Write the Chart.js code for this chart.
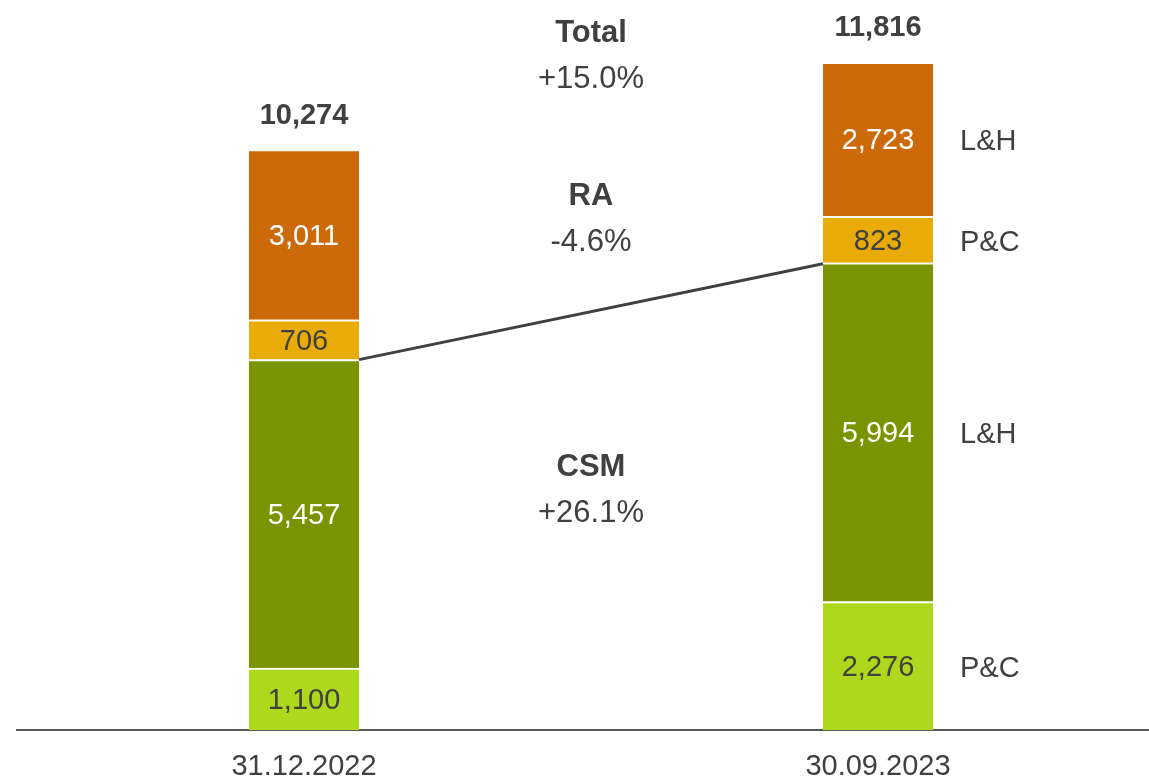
<!DOCTYPE html>
<html>
<head>
<meta charset="utf-8">
<script src="https://cdn.jsdelivr.net/npm/chart.js@4"></script>
<style>
  html, body { margin: 0; padding: 0; background: #fff; overflow: hidden; }
  #wrap { position: relative; width: 1165px; height: 803px; }
</style>
</head>
<body>
<div id="wrap"><canvas id="csmChart"></canvas></div>
<script>
// Dates on the x axis
const periods = ['31.12.2022', '30.09.2023'];

// Stacked segments, bottom to top
const csmPC = [1100, 2276];
const csmLH = [5457, 5994];
const raPC = [706, 823];
const raLH = [3011, 2723];

// Labels printed to the right of the second bar, one per segment
const segmentNames = ['P&C', 'L&H', 'P&C', 'L&H'];

// Change annotations between the bars
const groupTitles = ['Total', 'RA', 'CSM'];
const groupChanges = ['+15.0%', '-4.6%', '+26.1%'];

const textColor = '#404040';
const fontFamily = '"Liberation Sans", Arial, sans-serif';

// Draws value labels, totals, side labels, the CSM connector and the change notes
const annotatePlugin = {
  id: 'annotate',
  afterDatasetsDraw(chart) {
    const ctx = chart.ctx;
    const ds = chart.data.datasets;
    ctx.save();
    ctx.textAlign = 'center';
    ctx.textBaseline = 'middle';

    // value inside each segment
    ds.forEach((d, i) => {
      const meta = chart.getDatasetMeta(i);
      meta.data.forEach((bar, j) => {
        ctx.font = '29px ' + fontFamily;
        ctx.fillStyle = d.labelColor;
        ctx.fillText(d.data[j].toLocaleString('en-US'), bar.x, (bar.y + bar.base) / 2 + 2);
      });
    });

    // totals on top
    const topMeta = chart.getDatasetMeta(ds.length - 1);
    topMeta.data.forEach((bar, j) => {
      const total = ds.reduce((s, d) => s + d.data[j], 0);
      ctx.font = 'bold 29px ' + fontFamily;
      ctx.fillStyle = textColor;
      ctx.fillText(total.toLocaleString('en-US'), bar.x, bar.y - 34);
    });

    // side labels next to the last bar
    ctx.textAlign = 'left';
    ds.forEach((d, i) => {
      const bar = chart.getDatasetMeta(i).data[periods.length - 1];
      ctx.font = '29px ' + fontFamily;
      ctx.fillStyle = textColor;
      ctx.fillText(segmentNames[i], bar.x + bar.width / 2 + 27, (bar.y + bar.base) / 2 + 3);
    });

    // connector between CSM tops
    const csmMeta = chart.getDatasetMeta(1);
    const b0 = csmMeta.data[0], b1 = csmMeta.data[1];
    ctx.beginPath();
    ctx.moveTo(b0.x + b0.width / 2, b0.y);
    ctx.lineTo(b1.x - b1.width / 2, b1.y + 1);
    ctx.lineWidth = 3;
    ctx.strokeStyle = textColor;
    ctx.stroke();

    // change notes centred between the bars
    ctx.textAlign = 'center';
    const midX = (b0.x + b1.x) / 2;
    const noteY = [33, 196, 467];
    groupTitles.forEach((t, k) => {
      ctx.font = 'bold 31px ' + fontFamily;
      ctx.fillText(t, midX, noteY[k]);
      ctx.font = '31px ' + fontFamily;
      ctx.fillText(groupChanges[k], midX, noteY[k] + 46);
    });
    ctx.restore();
  }
};

const seg = (label, data, color, labelColor) => ({
  label: label,
  data: data,
  backgroundColor: color,
  borderColor: '#ffffff',
  borderWidth: { top: 2, bottom: 0, left: 0, right: 0 },
  borderSkipped: false,
  barThickness: 110,
  labelColor: labelColor
});

new Chart(document.getElementById('csmChart'), {
  type: 'bar',
  data: {
    labels: periods,
    datasets: [
      seg('CSM P&C', csmPC, '#add81b', textColor),
      seg('CSM L&H', csmLH, '#7a9300', '#ffffff'),
      seg('RA P&C', raPC, '#e9ac07', textColor),
      seg('RA L&H', raLH, '#cc6a09', '#ffffff')
    ]
  },
  options: {
    responsive: true,
    maintainAspectRatio: false,
    animation: false,
    layout: { padding: { left: 17, right: 0, top: 0, bottom: 0 } },
    plugins: {
      legend: { display: false },
      tooltip: { enabled: false }
    },
    scales: {
      x: {
        stacked: true,
        grid: { display: false, drawTicks: false },
        border: { display: true, color: '#595959', width: 2 },
        ticks: {
          padding: 19,
          color: textColor,
          font: { family: fontFamily, size: 29 }
        }
      },
      y: {
        stacked: true,
        display: false,
        min: 0,
        max: 12920
      }
    }
  },
  plugins: [annotatePlugin]
});
</script>
</body>
</html>
